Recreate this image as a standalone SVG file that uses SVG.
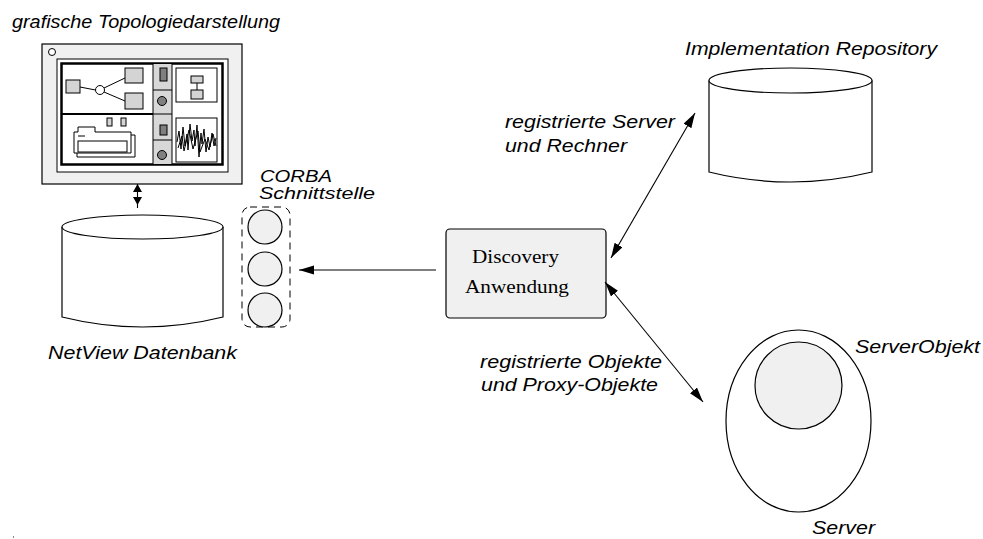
<svg xmlns="http://www.w3.org/2000/svg" width="983" height="539" viewBox="0 0 983 539">
  <style>
    .lbl { font-family: "Liberation Sans", Arial, sans-serif; font-style: italic; font-size: 18px; fill: #000; }
    .lbl-sm { font-size: 16px; }
    .serif { font-family: "Liberation Serif", "Times New Roman", serif; font-size: 19px; fill: #000; }
    .ln { fill: none; stroke: #000; stroke-width: 1; }
    .db { fill: #fff; stroke: #000; stroke-width: 1.2; }
    .pale { fill: #f0f0f0; stroke: #000; stroke-width: 1.2; }
    .ico { fill: #d4d4d4; stroke: #000; stroke-width: 1; }
    .dark { fill: #808080; stroke: #000; stroke-width: 1; }
    .conn { fill: none; stroke: #000; stroke-width: 1.1; }
  </style>
  <defs>
    <marker id="head" markerUnits="userSpaceOnUse" markerWidth="16" markerHeight="10" refX="15" refY="4.5" orient="auto-start-reverse">
      <path d="M0,0 L15,4.5 L0,9 Z" fill="#000"/>
    </marker>
    <marker id="headSmall" markerUnits="userSpaceOnUse" markerWidth="10" markerHeight="10" refX="8" refY="4.5" orient="auto-start-reverse">
      <path d="M0,0 L8,4.5 L0,9 Z" fill="#000"/>
    </marker>
  </defs>

  <rect width="983" height="539" fill="#fff"/>

  <!-- monitor with the topology view -->
  <g id="topology-view">
    <rect x="42" y="44" width="200" height="140" class="pale"/>
    <circle cx="52" cy="52" r="3.5" fill="#fff" stroke="#000" stroke-width="1"/>
    <rect x="57" y="59" width="171" height="113" fill="#fff" stroke="#000" stroke-width="1"/>
    <rect x="61.5" y="63.5" width="161" height="101" fill="#fff" stroke="#000" stroke-width="2.5"/>
    <!-- middle button column -->
    <rect x="153" y="63.5" width="19" height="101" fill="#d8d8d8" stroke="#000" stroke-width="1"/>
    <line x1="61.5" y1="114" x2="153" y2="114" stroke="#000" stroke-width="2"/>
    <line x1="153" y1="90" x2="172" y2="90" class="ln"/>
    <line x1="153" y1="114" x2="172" y2="114" class="ln"/>
    <line x1="153" y1="140" x2="172" y2="140" class="ln"/>
    <rect x="160" y="68" width="7" height="13" class="dark"/>
    <circle cx="162" cy="101" r="4.5" class="dark"/>
    <rect x="160" y="125" width="7" height="10" class="dark"/>
    <circle cx="162" cy="155" r="4.5" class="dark"/>
    <!-- tree graph -->
    <rect x="66" y="80" width="14" height="13" class="ico"/>
    <line x1="80" y1="87" x2="95.5" y2="90" class="ln"/>
    <circle cx="100" cy="90" r="4.5" fill="#fff" stroke="#000" stroke-width="1"/>
    <line x1="104" y1="88" x2="125" y2="78" class="ln"/>
    <line x1="104" y1="92" x2="125" y2="101" class="ln"/>
    <rect x="125" y="68" width="18" height="15" class="ico"/>
    <rect x="125" y="93" width="18" height="16" class="ico"/>
    <!-- folder -->
    <rect x="107" y="118" width="5" height="8" class="ico"/>
    <rect x="121" y="118" width="5" height="8" class="ico"/>
    <path d="M131,135 H135 V157 H77 V153" class="ln"/>
    <path d="M74,153 V132 H78 V127 H95 V132 H131 V153 Z" fill="#fff" stroke="#000" stroke-width="1"/>
    <line x1="78" y1="136" x2="85" y2="136" class="ln"/>
    <rect x="78" y="141" width="49" height="11" fill="#fff" stroke="#000" stroke-width="1"/>
    <!-- right panels -->
    <rect x="176" y="68" width="41" height="34" fill="#fff" stroke="#000" stroke-width="1"/>
    <rect x="191" y="76" width="12" height="7" class="ico"/>
    <line x1="197" y1="83" x2="197" y2="90" class="ln"/>
    <rect x="191" y="90" width="12" height="9" class="ico"/>
    <rect x="176" y="118" width="41" height="44" fill="#fff" stroke="#000" stroke-width="1"/>
    <polyline points="177,142 179,131 181,149 183,127 185,146 187,134 188,150 190,124 192,141 194,130 195,146 197,125 199,157 201,133 202,144 204,129 206,152 208,137 210,147 212,133 214,146 216,138" class="ln" stroke-width="0.9"/>
    <polyline points="178,148 182,136 184,151 189,130 193,149 198,131 200,152 205,139 209,150 213,134 216,146" class="ln" stroke-width="0.8"/>
  </g>

  <!-- NetView database -->
  <g id="netview-db">
    <path d="M62,227 V317 Q142.5,337 223,317 V227" class="db"/>
    <ellipse cx="142.5" cy="227" rx="80.5" ry="12" class="db"/>
  </g>

  <!-- CORBA interface -->
  <g id="corba-interface">
    <rect x="242" y="207" width="48" height="120" rx="8" fill="none" stroke="#000" stroke-width="1" stroke-dasharray="7,5"/>
    <circle cx="265" cy="227" r="17" class="pale"/>
    <circle cx="265" cy="269" r="17" class="pale"/>
    <circle cx="265" cy="310" r="17" class="pale"/>
  </g>

  <!-- discovery application -->
  <g id="discovery">
    <rect x="446" y="229" width="160" height="89" rx="4" class="pale"/>
    <text x="472" y="263" class="serif" textLength="87" lengthAdjust="spacingAndGlyphs">Discovery</text>
    <text x="465" y="293" class="serif" textLength="104" lengthAdjust="spacingAndGlyphs">Anwendung</text>
  </g>

  <!-- implementation repository -->
  <g id="impl-repository">
    <path d="M709,80.5 V172 Q790.5,192 872,172 V80.5" class="db"/>
    <ellipse cx="790.5" cy="80.5" rx="81.5" ry="12.5" class="db"/>
  </g>

  <!-- server with server object -->
  <g id="server">
    <ellipse cx="798.5" cy="421" rx="72.5" ry="91" class="db"/>
    <circle cx="798.5" cy="385.5" r="43.5" class="pale"/>
  </g>

  <!-- connectors -->
  <g id="connectors">
    <line x1="137.5" y1="184" x2="137.5" y2="205" class="conn" stroke-width="1.5" marker-start="url(#headSmall)" marker-end="url(#headSmall)"/>
    <line x1="137.5" y1="205" x2="137.5" y2="208" class="conn"/>
    <line x1="436" y1="270" x2="299" y2="270" class="conn" marker-end="url(#head)"/>
    <line x1="611" y1="258" x2="695" y2="113" class="conn" marker-start="url(#head)" marker-end="url(#head)"/>
    <line x1="605" y1="282" x2="703" y2="402" class="conn" marker-start="url(#head)" marker-end="url(#head)"/>
  </g>

  <!-- labels -->
  <g id="labels">
    <text x="12" y="28" class="lbl" textLength="268" lengthAdjust="spacingAndGlyphs">grafische Topologiedarstellung</text>
    <text x="685" y="55" class="lbl" textLength="252" lengthAdjust="spacingAndGlyphs">Implementation Repository</text>
    <text x="260" y="182" class="lbl lbl-sm" textLength="72" lengthAdjust="spacingAndGlyphs">CORBA</text>
    <text x="259" y="199" class="lbl lbl-sm" textLength="116" lengthAdjust="spacingAndGlyphs">Schnittstelle</text>
    <text x="505" y="128" class="lbl" textLength="170" lengthAdjust="spacingAndGlyphs">registrierte Server</text>
    <text x="505" y="152" class="lbl" textLength="122" lengthAdjust="spacingAndGlyphs">und Rechner</text>
    <text x="48" y="359" class="lbl" textLength="189" lengthAdjust="spacingAndGlyphs">NetView Datenbank</text>
    <text x="480" y="368" class="lbl" textLength="182" lengthAdjust="spacingAndGlyphs">registrierte Objekte</text>
    <text x="481" y="391" class="lbl" textLength="177" lengthAdjust="spacingAndGlyphs">und Proxy-Objekte</text>
    <text x="855" y="353" class="lbl" textLength="125" lengthAdjust="spacingAndGlyphs">ServerObjekt</text>
    <text x="812" y="534" class="lbl" textLength="63" lengthAdjust="spacingAndGlyphs">Server</text>
  </g>

  <rect x="13" y="536" width="1" height="2" fill="#888"/>
</svg>
